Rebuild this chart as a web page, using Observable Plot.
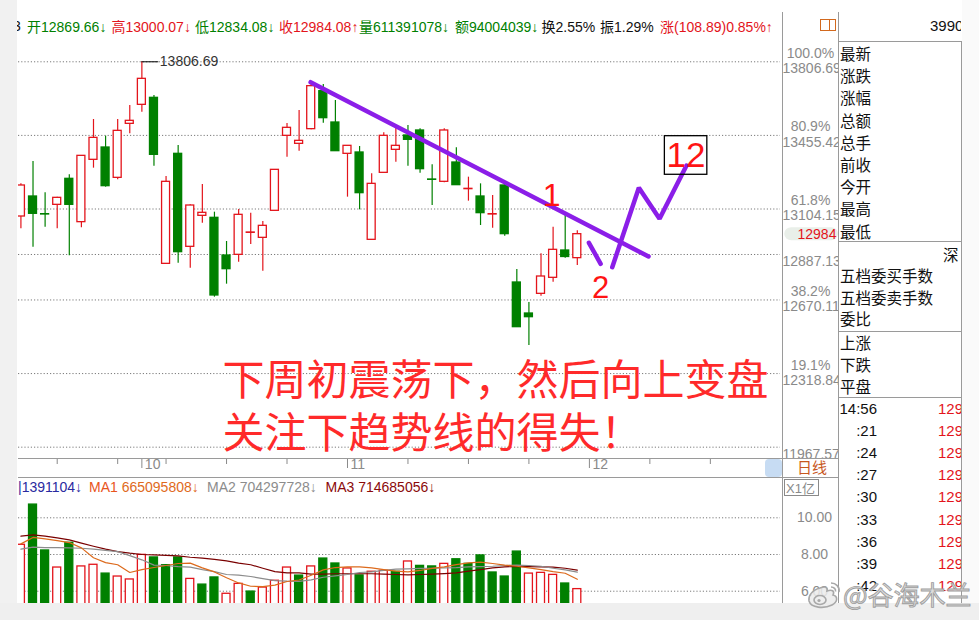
<!DOCTYPE html>
<html>
<head>
<meta charset="utf-8">
<script src="https://cdn.jsdelivr.net/npm/d3@7"></script>
<script src="https://cdn.jsdelivr.net/npm/@observablehq/plot@0.6"></script>
<style>
  body { margin: 0; background: #fff; }
  #page { position: relative; width: 979px; height: 620px; overflow: hidden; background: #fff;
          font-family: "Liberation Sans", Arial, "Noto Sans CJK SC", sans-serif; }
  .abs { position: absolute; white-space: nowrap; }
  .hl { position: absolute; height: 1px; background: #9a9a9a; }
  .vl { position: absolute; width: 1px; background: #9a9a9a; }
  .cn { font-family: "Noto Sans CJK SC", sans-serif; }
  .top { top: 16px; font-size: 14px; line-height: 20px; }
  .panel { font-family: "Noto Sans CJK SC", sans-serif; font-size: 15.5px; line-height: 20px; color: #111; }
</style>
</head>
<body>
<div id="page">
  <div class="abs" style="left:0;top:0;width:17px;height:620px;background:#f1f1f1;z-index:5"></div>
  <div class="abs" style="left:0;top:603px;width:979px;height:17px;background:#efefef;z-index:5"></div>
  <div class="abs" style="left:962px;top:0;width:17px;height:620px;background:#fafafa;z-index:4"></div>

  <div id="topbar"></div>
  <div id="priceWrap" class="abs" style="left:0;top:40px;width:838px;height:438px;overflow:hidden"></div>
  <div id="volInfo"></div>
  <div id="volWrap" class="abs" style="left:0;top:495px;width:838px;height:108px;overflow:hidden"></div>
  <div id="chrome"></div>
  <div id="sidePanel"></div>
  <div id="mark"></div>
</div>
<script>
// ---- daily candles (Shenzhen Component), oldest first ----
const openP = [13068.4, 13163.9, 13079.6, 13124.1, 13248.2, 13041.4, 13338.9, 13397.7, 13252.9, 13510.6,
  13601.3, 13634.7, 12842.5, 13367.5, 12923.7, 13071.6, 13062.1, 12882.3, 12885.5, 12990.5,
  12966.6, 13095.5, 13453.4, 13415.2, 13485.2, 13666.5, 13517.0, 13367.5, 13373.9, 12957.1,
  13276.8, 13386.6, 13455.0, 13478.9, 13245.0, 13233.9, 13326.1, 13198.9, 13163.9, 13078.0,
  13216.4, 12753.5, 12605.5, 12699.4, 12775.8, 12906.2, 12869.66];
const highP = [13224.3, 13330.9, 13181.4, 13160.0, 13267.3, 13358.0, 13531.3, 13451.8, 13531.3, 13598.2,
  13806.69, 13645.9, 13259.3, 13407.3, 13124.1, 13221.2, 13089.1, 12949.2, 13101.8, 13084.3,
  13044.6, 13291.1, 13512.2, 13574.3, 13701.5, 13698.4, 13622.0, 13405.7, 13402.5, 13272.0,
  13467.7, 13494.8, 13502.7, 13486.8, 13315.0, 13486.8, 13396.1, 13256.1, 13224.3, 13168.7,
  13224.3, 12815.5, 12658.0, 12890.3, 13017.5, 13081.2, 13000.07];
const lowP = [13009.6, 12922.1, 13017.5, 13009.6, 12880.7, 13014.4, 13299.1, 13208.4, 13243.4, 13462.9,
  13566.3, 13308.6, 12842.5, 12845.7, 12821.8, 13036.6, 12683.5, 12745.5, 12850.5, 12934.8,
  12807.6, 13095.5, 13351.6, 13380.2, 13482.0, 13513.8, 13380.2, 13160.7, 13100.3, 12957.1,
  13276.8, 13327.7, 13308.6, 13275.2, 13120.9, 13229.1, 13218.0, 13141.6, 13025.5, 13012.8,
  12974.6, 12540.3, 12452.9, 12688.2, 12755.1, 12869.6, 12834.08];
const closeP = [13216.4, 13081.2, 13078.0, 13157.5, 13124.1, 13357.9, 13443.8, 13213.2, 13477.2, 13525.0,
  13725.4, 13362.7, 13233.9, 12898.2, 13120.9, 13086.0, 12691.5, 12817.1, 13076.4, 12992.1,
  13023.9, 13291.1, 13491.6, 13429.5, 13690.4, 13537.7, 13380.2, 13405.7, 13179.8, 13224.3,
  13453.4, 13405.7, 13434.3, 13294.3, 13243.4, 13478.9, 13218.0, 13200.5, 13084.4, 13079.6,
  12984.2, 12540.3, 12588.0, 12782.1, 12909.4, 12875.19, 12984.08];
// volume in 亿 shares and its 5/10/20-day averages
const volume = [8.53, 10.72, 8.22, 7.29, 8.64, 7.35, 7.44, 6.96, 6.80, 6.64,
  7.98, 7.84, 7.42, 7.84, 6.67, 6.36, 6.75, 5.86, 6.40, 5.98,
  6.20, 6.57, 7.29, 6.85, 7.35, 7.78, 7.51, 7.24, 6.86, 7.06,
  7.11, 7.06, 7.62, 7.38, 7.35, 7.49, 7.74, 7.49, 7.95, 7.02,
  6.80, 8.16, 6.96, 7.00, 6.89, 6.42, 6.11391078];
const ma1 = [8.58, 8.93, 8.85, 8.76, 8.65, 8.36, 7.82, 7.56, 7.44, 7.02,
  7.18, 7.29, 7.40, 7.51, 7.53, 7.27, 7.05, 6.73, 6.45, 6.27,
  6.25, 6.33, 6.53, 6.61, 6.87, 7.16, 7.29, 7.33, 7.33, 7.27,
  7.18, 7.09, 7.05, 7.13, 7.24, 7.33, 7.45, 7.54, 7.58, 7.51,
  7.42, 7.36, 7.27, 7.18, 7.07, 6.98, 6.65095808];
const ma2 = [8.29, 8.40, 8.38, 8.38, 8.36, 8.34, 8.29, 8.22, 8.16, 7.94,
  7.71, 7.42, 7.40, 7.34, 7.31, 7.18, 7.07, 6.91, 6.88, 6.80,
  6.69, 6.58, 6.55, 6.54, 6.62, 6.76, 6.84, 6.91, 7.02, 7.05,
  7.14, 7.20, 7.22, 7.24, 7.25, 7.27, 7.29, 7.33, 7.34, 7.36,
  7.40, 7.42, 7.40, 7.36, 7.25, 7.16, 7.04297728];
const ma3 = [9.00, 9.07, 9.00, 8.91, 8.80, 8.62, 8.45, 8.29, 8.16, 8.07,
  8.00, 7.98, 7.95, 7.93, 7.85, 7.80, 7.73, 7.65, 7.53, 7.44,
  7.25, 7.07, 7.00, 7.00, 6.93, 6.93, 6.95, 6.95, 6.95, 6.95,
  6.93, 6.91, 6.89, 6.91, 6.93, 6.96, 7.00, 7.09, 7.18, 7.27,
  7.33, 7.34, 7.34, 7.33, 7.31, 7.25, 7.14685056];

// golden-section levels between the swing high and low
const fibPrice = [13806.69, 13455.42, 13104.15, 12887.13, 12670.11, 12318.84, 11967.57];
const fibPct = ["100.0%", "80.9%", "61.8%", "", "38.2%", "19.1%", ""];
const volTicks = [10, 8, 6];
// x axis: week ticks and month starts, by bar number
const weekTicks = [4, 9, 13, 18, 23, 33, 38, 43, 53, 58, 63];
const monthTicks = [11, 28, 48];
const monthLabels = ["10", "11", "12"];

// hand-drawn annotations (bar number, price)
const trendLine = [{i: 24.95, p: 13709.3}, {i: 52.89, p: 12877.6}];
const dipStroke = [{i: 47.96, p: 12942.9}, {i: 48.93, p: 12842.7}];
const zigzag = [{i: 49.89, p: 12826.5}, {i: 52.09, p: 13205.4}, {i: 53.80, p: 13057.5}, {i: 56.03, p: 13311.8}];
const noteOne = [{i: 44.87, p: 13168.7, t: "1"}];
const noteTwo = [{i: 48.92, p: 12727.3, t: "2"}];
const noteTwelve = [{i: 55.99, p: 13359.6, t: "12"}];
const noteBox = [{x1: 54.24, x2: 57.75, y1: 13267.5, y2: 13451.7}];
const forecastText = [
  {i: 17.67, p: 12281.1, t: "下周初震荡下，然后向上变盘"},
  {i: 17.67, p: 12028.2, t: "关注下趋势线的得失！"}
];

// quote header extras
const turnoverAmt = "94004039";
const turnoverRate = "2.55%";
const volLead = "1391104";

const RED = "#e3141b", GREEN = "#008000", PURPLE = "#8b1ee8", AXIS = "#8a8a8a";
const FONT = "Liberation Sans, Arial, sans-serif";

const bars = closeP.map((c, k) => ({
  i: k + 1, open: openP[k], high: highP[k], low: lowP[k], close: c,
  vol: volume[k], ma1: ma1[k], ma2: ma2[k], ma3: ma3[k],
  up: c >= openP[k],
  volUp: k === 0 ? c >= openP[k] : c >= closeP[k - 1]
}));
const last = bars[bars.length - 1];
const prev = bars[bars.length - 2];
const peak = d3.greatest(bars, d => d.high);
const xDomain = [0.8, 63.8];
const half = 0.33;

const price = Plot.plot({
  width: 838, height: 438,
  marginLeft: 18, marginRight: 58, marginTop: 0, marginBottom: 19,
  x: {domain: xDomain, axis: null},
  y: {domain: [11908.8, 13908.3], axis: null},
  color: {type: "identity"},
  style: {background: "transparent", fontFamily: FONT},
  marks: [
    Plot.ruleY(fibPrice, {stroke: "#7a7a7a", strokeDasharray: "1.2,2"}),
    Plot.ruleX(bars, {x: "i", y1: "low", y2: "high", stroke: d => d.up ? RED : GREEN, strokeWidth: 1.2, clip: true}),
    Plot.rect(bars, {x1: d => d.i - half, x2: d => d.i + half, y1: "open", y2: "close",
      fill: d => d.up ? "#ffffff" : GREEN, stroke: d => d.up ? RED : GREEN, strokeWidth: 1.3, clip: true}),
    Plot.ruleY([peak], {y: "high", x1: "i", x2: d => d.i + 1.4, stroke: "#000"}),
    Plot.text([peak], {x: d => d.i + 1.4, y: "high", dx: 1, text: d => d.high.toFixed(2), textAnchor: "start", fill: "#333", fontSize: 14}),
    // right price column
    Plot.text(fibPrice, {y: d => d, frameAnchor: "right", dx: 30, dy: -8.5, text: (d, k) => fibPct[k], textAnchor: "middle", fill: AXIS, fontSize: 14}),
    Plot.text(fibPrice, {y: d => d, frameAnchor: "right", dx: 2, dy: 7, text: d => d.toFixed(2), textAnchor: "start", fill: AXIS, fontSize: 14}),
    Plot.rect([last], {x1: xDomain[1] + 0.35, x2: xDomain[1] + 4.8, y1: d => d.close - 31, y2: d => d.close + 31, fill: "#e9efe9", rx: 7}),
    Plot.text([last], {y: "close", frameAnchor: "right", dx: 17, text: d => d.close.toFixed(0), textAnchor: "start", fill: RED, fontSize: 14}),
    // time axis
    Plot.axisX(weekTicks, {anchor: "bottom", tickSize: 5, tickFormat: () => "", stroke: AXIS}),
    Plot.axisX(monthTicks, {anchor: "bottom", tickSize: 9, tickFormat: () => "", stroke: AXIS}),
    Plot.text(monthTicks, {x: d => d, frameAnchor: "bottom", dx: 3, dy: 9, text: (d, k) => monthLabels[k], textAnchor: "start", fill: AXIS, fontSize: 14}),
    // annotations
    Plot.line(trendLine, {x: "i", y: "p", stroke: PURPLE, strokeWidth: 4.5}),
    Plot.line(dipStroke, {x: "i", y: "p", stroke: PURPLE, strokeWidth: 4.5}),
    Plot.line(zigzag, {x: "i", y: "p", stroke: PURPLE, strokeWidth: 4.5, strokeLinejoin: "miter"}),
    Plot.text(noteOne, {x: "i", y: "p", text: "t", fill: "#ff1414", fontSize: 32}),
    Plot.text(noteTwo, {x: "i", y: "p", text: "t", fill: "#ff1414", fontSize: 31}),
    Plot.rect(noteBox, {x1: "x1", x2: "x2", y1: "y1", y2: "y2", fill: "none", stroke: "#000", strokeWidth: 1.3}),
    Plot.text(noteTwelve, {x: "i", y: "p", text: "t", fill: "#ff1414", fontSize: 35}),
    Plot.text(forecastText, {x: "i", y: "p", text: "t", textAnchor: "start", fill: "#ff2a2a", fontSize: 42,
      fontFamily: "Noto Sans CJK SC, sans-serif"})
  ]
});
document.getElementById("priceWrap").appendChild(price);

const vol = Plot.plot({
  width: 838, height: 108,
  marginLeft: 18, marginRight: 58, marginTop: 0, marginBottom: 0,
  x: {domain: xDomain, axis: null},
  y: {domain: [5.33, 11.215], axis: null},
  color: {type: "identity"},
  style: {background: "transparent", fontFamily: FONT},
  marks: [
    Plot.ruleY(volTicks, {stroke: "#7a7a7a", strokeDasharray: "1.2,2"}),
    Plot.rect(bars, {x1: d => d.i - half, x2: d => d.i + half, y1: 4, y2: "vol",
      fill: d => d.volUp ? "#ffffff" : GREEN, stroke: d => d.volUp ? RED : GREEN, strokeWidth: 1.3, clip: true}),
    Plot.line(bars, {x: "i", y: "ma3", stroke: "#7a0000", strokeWidth: 1.2, clip: true}),
    Plot.line(bars, {x: "i", y: "ma2", stroke: "#8c8c8c", strokeWidth: 1.2, clip: true}),
    Plot.line(bars, {x: "i", y: "ma1", stroke: "#dc6a1c", strokeWidth: 1.2, clip: true}),
    Plot.text(volTicks, {y: d => d, frameAnchor: "right", dx: 34, text: d => d.toFixed(2), textAnchor: "middle", fill: AXIS, fontSize: 14})
  ]
});
document.getElementById("volWrap").appendChild(vol);

// ---- quote header ----
const fmt2 = d3.format(".2f");
const change = last.close - prev.close;
const arrow = (a, b) => (a >= b ? "↑" : "↓");
const topItems = [
  {x: 27, lab: "开", val: fmt2(last.open) + arrow(last.open, prev.close), lc: GREEN, vc: GREEN},
  {x: 111.5, lab: "高", val: fmt2(last.high) + "↓", lc: RED, vc: RED},
  {x: 195, lab: "低", val: fmt2(last.low) + "↓", lc: GREEN, vc: GREEN},
  {x: 279, lab: "收", val: fmt2(last.close) + arrow(last.close, prev.close), lc: RED, vc: RED},
  {x: 359, lab: "量", val: Math.round(last.vol * 1e8) + arrow(last.vol, prev.vol), lc: GREEN, vc: GREEN},
  {x: 455, lab: "额", val: turnoverAmt + "↓", lc: GREEN, vc: GREEN},
  {x: 541.5, lab: "换", val: turnoverRate, lc: "#111", vc: "#111"},
  {x: 600, lab: "振", val: fmt2((last.high - last.low) / prev.close * 100) + "%", lc: "#111", vc: "#111"},
  {x: 660, lab: "涨", val: "(" + fmt2(change) + ")" + fmt2(change / prev.close * 100) + "%" + arrow(last.close, prev.close), lc: RED, vc: RED}
];
const topbar = document.getElementById("topbar");
topbar.innerHTML = `<div class="abs top" style="left:13px;color:#111">3</div>` +
  topItems.map(t => `<div class="abs top" style="left:${t.x}px"><span class="cn" style="color:${t.lc}">${t.lab}</span><span style="color:${t.vc}">${t.val}</span></div>`).join("") +
  `<div class="abs" style="left:820px;top:19px;width:14px;height:10px;border:1px solid #d2691e"></div>` +
  `<div class="abs" style="left:829px;top:19px;width:1px;height:12px;background:#d2691e"></div>` +
  `<div class="abs" style="left:839px;top:14px;width:122px;height:24px;overflow:hidden"><div class="abs" style="left:91px;top:3px;font-size:15px;color:#111">399001</div></div>`;

// ---- volume legend ----
const fmtInt = v => Math.round(v * 1e8);
document.getElementById("volInfo").innerHTML = [
  {x: 18, html: `<span style="color:#2a2aa0">|${volLead}↓</span>`},
  {x: 89, html: `<span style="color:#e8541c">MA1 </span><span style="color:#e06a1c">${fmtInt(last.ma1)}↓</span>`},
  {x: 207, html: `<span style="color:#8c8c8c">MA2 ${fmtInt(last.ma2)}↓</span>`},
  {x: 325.5, html: `<span style="color:#8b0a0a">MA3 ${fmtInt(last.ma3)}↓</span>`}
].map(t => `<div class="abs" style="left:${t.x}px;top:477px;font-size:14px;line-height:20px">${t.html}</div>`).join("");

// ---- frame lines and axis furniture ----
document.getElementById("chrome").innerHTML = `
  <div class="vl" style="left:782px;top:12px;height:591px"></div>
  <div class="vl" style="left:838px;top:12px;height:591px"></div>
  <div class="hl" style="left:18px;top:458px;width:820px"></div>
  <div class="hl" style="left:18px;top:477px;width:820px"></div>
  <div class="abs" style="left:765px;top:459px;width:17px;height:18px;background:#c7dcf3;border-radius:4px"></div>
  <div class="abs cn" style="left:797px;top:457px;font-size:15px;line-height:20px;color:#c8581e">日线</div>
  <div class="abs" style="left:784px;top:479px;width:32px;height:15px;border:1px solid #8a8a8a;font-size:13px;line-height:15px;color:#8a8a8a;padding-left:1px">X1<span class="cn">亿</span></div>`;

// ---- quote side panel ----
const quoteLabels = ["最新", "涨跌", "涨幅", "总额", "总手", "前收", "今开", "最高", "最低"];
const depthLabels = ["五档委买手数", "五档委卖手数", "委比"];
const breadthLabels = ["上涨", "下跌", "平盘"];
const tickTimes = ["14:56", ":21", ":24", ":27", ":30", ":33", ":36", ":39", ":42"];
let side = `<div class="hl" style="left:838px;top:41px;width:123px"></div>
  <div class="vl" style="left:961px;top:41px;height:562px"></div>
  <div class="hl" style="left:838px;top:241px;width:123px"></div>
  <div class="hl" style="left:838px;top:331px;width:123px"></div>
  <div class="hl" style="left:838px;top:397px;width:123px"></div>`;
side += quoteLabels.map((t, k) => `<div class="abs panel" style="left:840px;top:${43 + k * 22.2}px">${t}</div>`).join("");
side += `<div class="abs panel" style="left:943px;top:244px">深</div>`;
side += depthLabels.map((t, k) => `<div class="abs panel" style="left:840px;top:${265 + k * 21.5}px">${t}</div>`).join("");
side += breadthLabels.map((t, k) => `<div class="abs panel" style="left:840px;top:${332 + k * 22}px">${t}</div>`).join("");
side += `<div class="abs" style="left:839px;top:398px;width:122px;height:205px;overflow:hidden">` +
  tickTimes.map((t, k) => `<div class="abs" style="right:84px;top:${1 + k * 22.1}px;font-size:15px;line-height:20px;color:#111">${t}</div>` +
    `<div class="abs" style="left:99px;top:${1 + k * 22.1}px;font-size:15px;line-height:20px;color:${RED}">${last.close.toFixed(0)}</div>`).join("") +
  `</div>`;
document.getElementById("sidePanel").innerHTML = side;

// ---- weibo handle ----
document.getElementById("mark").innerHTML = `
  <svg class="abs" style="left:806px;top:580px;z-index:6" width="36" height="30" viewBox="0 0 36 30">
    <path d="M14 8 C6 10 2 16 3 21 C5 28 18 29 26 25 C32 22 32 16 27 15 C29 11 26 9 21 11 C22 7 19 6 14 8 Z"
      fill="rgba(235,235,235,0.85)" stroke="#a8a8a8" stroke-width="1.6"/>
    <ellipse cx="14" cy="20" rx="6" ry="4.5" fill="none" stroke="#a8a8a8" stroke-width="1.6"/>
    <circle cx="13" cy="20.5" r="1.6" fill="#a8a8a8"/>
    <path d="M25 3 C30 3 34 7 33 12" fill="none" stroke="#a8a8a8" stroke-width="1.6"/>
    <path d="M25 7 C28 7 30 9 29.5 11.5" fill="none" stroke="#a8a8a8" stroke-width="1.6"/>
  </svg>
  <div class="abs cn" style="left:843px;top:577px;font-size:26px;line-height:34px;color:rgba(215,215,215,0.9);-webkit-text-stroke:0.9px #9e9e9e;z-index:6">@谷海木兰</div>`;
</script>
</body>
</html>
